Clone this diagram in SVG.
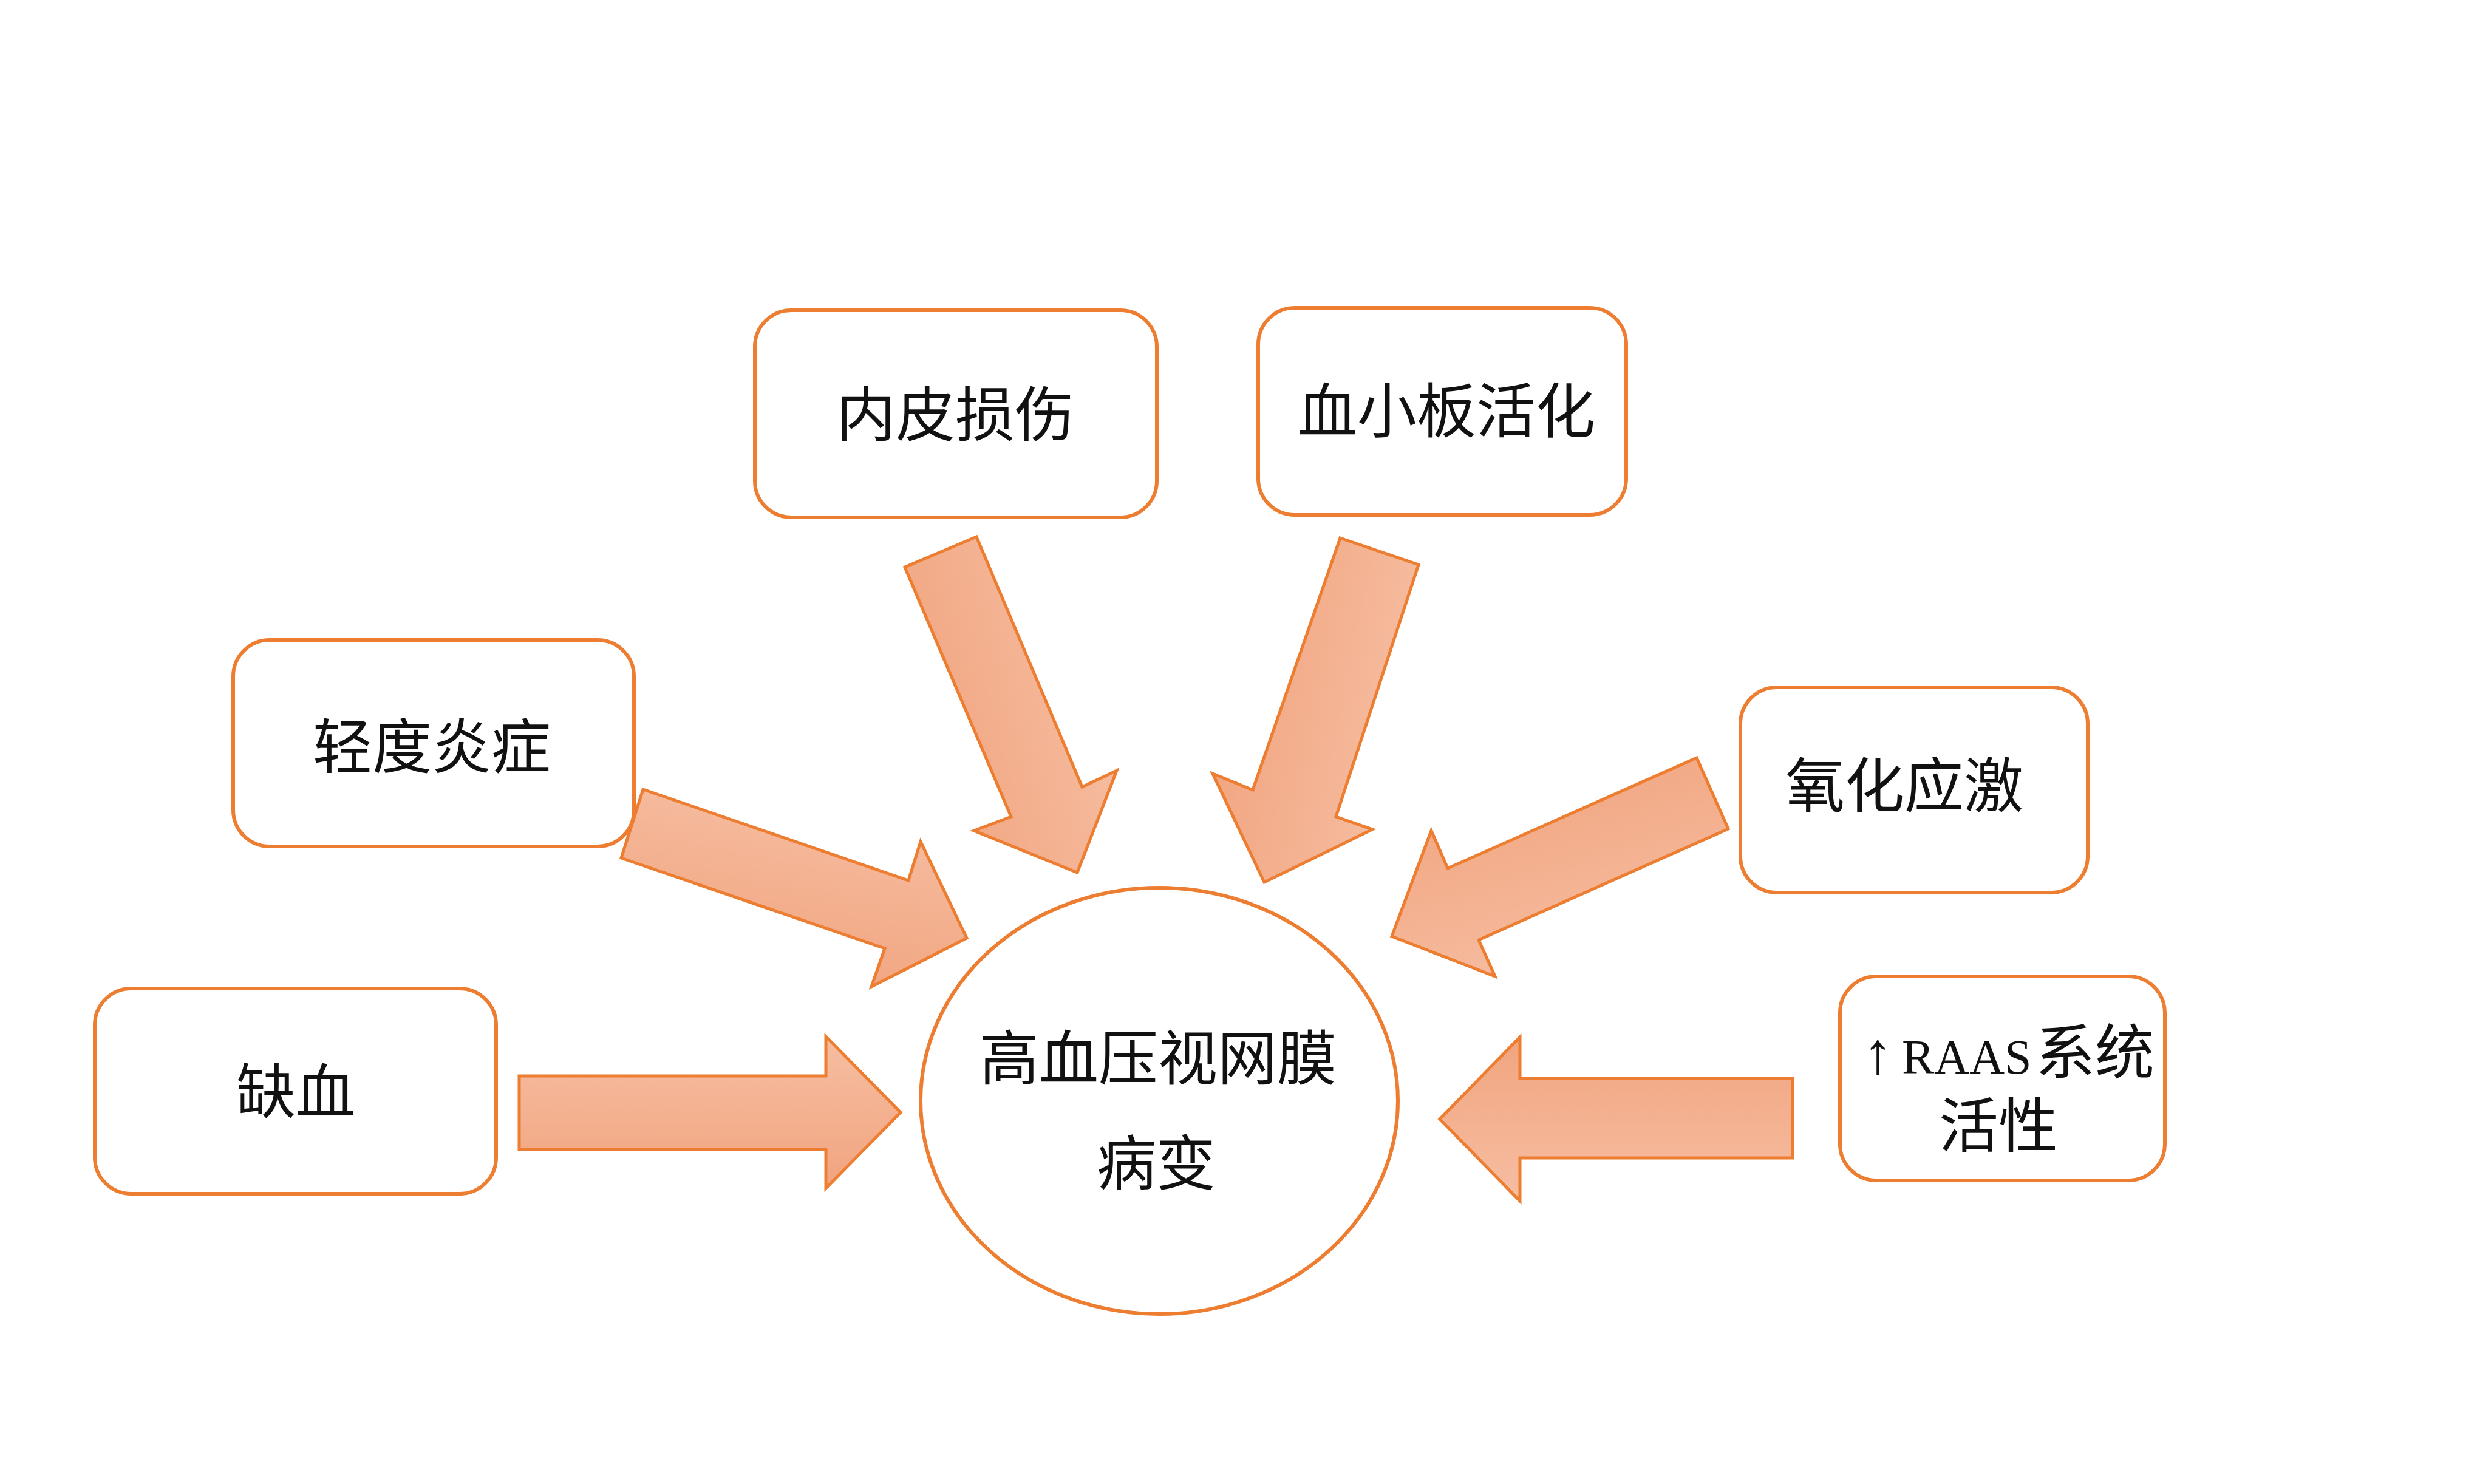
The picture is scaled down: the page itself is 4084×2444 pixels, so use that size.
<svg xmlns="http://www.w3.org/2000/svg" width="4084" height="2444" viewBox="0 0 4084 2444">
<style>
.box{fill:#FFFFFF;stroke:#ED7D31;stroke-width:6}
.arrow{stroke:#ED7D31;stroke-width:5;stroke-linejoin:miter}
.t{font-family:"Noto Sans CJK SC","Noto Sans CJK TC",sans-serif;font-size:98px;fill:#111111;text-anchor:middle}
.ts{font-family:"Noto Sans CJK SC","Noto Sans CJK TC",sans-serif;font-size:98px;fill:#111111;text-anchor:start}
.lat{font-family:"Liberation Serif",serif}
</style>
<defs>
<linearGradient id="gIsch" x1="0.5" y1="1" x2="0.5" y2="0"><stop offset="0" stop-color="#F1A47F"/><stop offset="1" stop-color="#F6BEA2"/></linearGradient>
<linearGradient id="gRaas" x1="0.5" y1="0" x2="0.5" y2="1"><stop offset="0" stop-color="#F1A47F"/><stop offset="1" stop-color="#F6BEA2"/></linearGradient>
<linearGradient id="gInfl" x1="0.34" y1="0.975" x2="0.66" y2="0.025"><stop offset="0" stop-color="#F1A47F"/><stop offset="1" stop-color="#F6BEA2"/></linearGradient>
<linearGradient id="gEndo" x1="0.04" y1="0.695" x2="0.96" y2="0.305"><stop offset="0" stop-color="#F1A47F"/><stop offset="1" stop-color="#F6BEA2"/></linearGradient>
<linearGradient id="gPlat" x1="0.025" y1="0.34" x2="0.975" y2="0.66"><stop offset="0" stop-color="#F1A47F"/><stop offset="1" stop-color="#F6BEA2"/></linearGradient>
<linearGradient id="gOxi" x1="0.295" y1="0.045" x2="0.705" y2="0.955"><stop offset="0" stop-color="#F1A47F"/><stop offset="1" stop-color="#F6BEA2"/></linearGradient>
</defs>
<rect width="4084" height="2444" fill="#FFFFFF"/>

<g id="connectors">
<polygon class="arrow" fill="url(#gIsch)" points="855,1772 1360,1772 1360,1707 1483,1832 1360,1957 1360,1893 855,1893"/>
<polygon class="arrow" fill="url(#gRaas)" points="2952,1776 2503,1776 2503,1708 2371,1843 2503,1978 2503,1907 2952,1907"/>
<polygon class="arrow" fill="url(#gInfl)" points="1059,1300 1496,1450 1516,1386 1592,1545 1435,1625 1457,1562 1023,1413"/>
<polygon class="arrow" fill="url(#gEndo)" points="1490,934 1608,884 1782,1296 1839,1269 1774,1437 1604,1368 1665,1345"/>
<polygon class="arrow" fill="url(#gPlat)" points="2207,886 2336,930 2200,1345 2260,1366 2082,1453 1997,1274 2063,1301"/>
<polygon class="arrow" fill="url(#gOxi)" points="2794,1248 2846,1365 2435,1548 2462,1608 2292,1542 2357,1368 2384,1430"/>
</g>

<g id="node-center">
<ellipse cx="1909" cy="1813" rx="393" ry="351" fill="#FFFFFF" stroke="#ED7D31" stroke-width="6"/>
<text class="t" x="1907" y="1778">高血压视网膜</text>
<text class="t" x="1904" y="1951">病变</text>
</g>

<g id="node-endothelium">
<rect class="box" x="1243" y="511" width="662" height="341" rx="60" ry="60"/>
<text class="t" x="1573" y="718">内皮损伤</text>
</g>

<g id="node-platelet">
<rect class="box" x="2072" y="507" width="606" height="341" rx="60" ry="60"/>
<text class="t" x="2382" y="712">血小板活化</text>
</g>

<g id="node-inflammation">
<rect class="box" x="384" y="1054" width="660" height="340" rx="60" ry="60"/>
<text class="t" x="711" y="1265">轻度炎症</text>
</g>

<g id="node-ischemia">
<rect class="box" x="156" y="1628" width="661" height="338" rx="60" ry="60"/>
<text class="t" x="487" y="1833">缺血</text>
</g>

<g id="node-oxidative">
<rect class="box" x="2866" y="1132" width="572" height="338" rx="60" ry="60"/>
<text class="t" x="3136" y="1329">氧化应激</text>
</g>

<g id="node-raas">
<rect class="box" x="3030" y="1608" width="535" height="336" rx="60" ry="60"/>
<text class="ts" x="3068" y="1768"><tspan class="lat">↑</tspan><tspan class="lat" x="3132" font-size="80">RAAS</tspan><tspan x="3352">系统</tspan></text>
<text class="t" x="3291" y="1889">活性</text>
</g>
</svg>
